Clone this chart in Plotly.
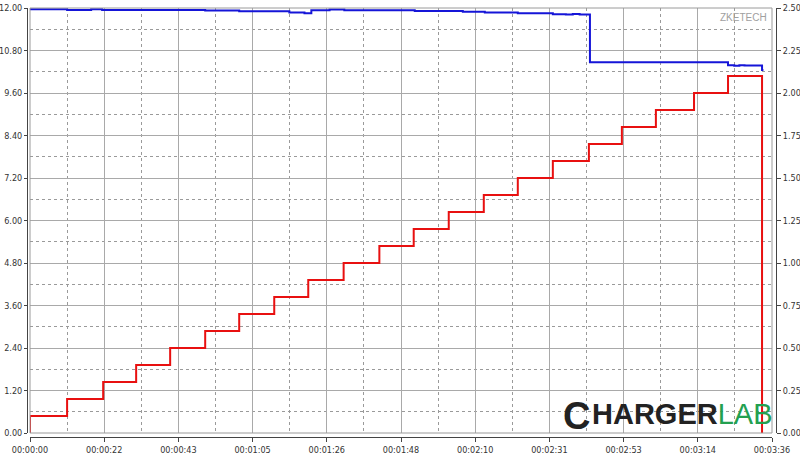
import plotly.graph_objects as go

# ---- data (time in seconds) ----
voltage_time = [0, 10.8, 17.8, 21.0, 51.0, 60.9, 71.7, 75.5, 79.9, 81.9, 87.2, 91.5,
                112.0, 126.0, 132.4, 142.0, 152.2, 156.0, 158.0, 160.0, 163.0,
                203.2, 205.0, 206.5, 208.0, 213.1, 213.5]
voltage = [11.962, 11.945, 11.962, 11.944, 11.926, 11.905, 11.91, 11.875, 11.855, 11.94, 11.958, 11.935,
           11.915, 11.895, 11.875, 11.855, 11.825, 11.815, 11.83, 11.82, 10.47,
           10.385, 10.37, 10.385, 10.375, 10.25, 10.25]

current_time = [0, 0, 10.8, 21.3, 30.9, 40.8, 51.0, 60.9, 71.1, 81.0, 91.3, 101.7, 111.7,
                121.9, 132.1, 142.0, 152.2, 162.7, 172.3, 182.2, 193.3, 203.2, 213.1]
current = [0.0, 0.1, 0.2, 0.3, 0.4, 0.5, 0.6, 0.7, 0.8, 0.9, 1.0, 1.1, 1.2,
           1.3, 1.4, 1.5, 1.6, 1.7, 1.8, 1.9, 2.0, 2.1, 0.0]

x_tick_labels = ["00:00:00", "00:00:22", "00:00:43", "00:01:05", "00:01:26", "00:01:48",
                 "00:02:10", "00:02:31", "00:02:53", "00:03:14", "00:03:36"]
total_seconds = 216.0

# ---- layout geometry (pixels) ----
W, H = 800, 455
ML, MR, MT, MB = 27, 24, 8, 18
PW = W - ML - MR        # paper width
PH = H - MT - MB        # paper height
plot_l, plot_r, plot_t, plot_b = 30, 772, 8, 433

def px(xp):
    return (xp - ML) / PW

def py(yp):
    return (H - MB - yp) / PH

n_div = len(x_tick_labels) - 1
tickvals = [total_seconds * i / n_div for i in range(n_div + 1)]

grid_major = "#a9a9a9"
grid_minor = "#9a9a9a"
tick_font = dict(family="Liberation Sans Narrow, DejaVu Sans Condensed, Arial Narrow, sans-serif",
                 size=9, color="#333333")

fig = go.Figure()
fig.add_trace(go.Scatter(x=voltage_time, y=voltage, mode="lines", line_shape="hv",
                         line=dict(color="#1515d8", width=2), yaxis="y", showlegend=False,
                         hoverinfo="skip"))
fig.add_trace(go.Scatter(x=current_time, y=current, mode="lines", line_shape="hv",
                         line=dict(color="#e81010", width=2), yaxis="y2", showlegend=False,
                         hoverinfo="skip"))

fig.update_layout(
    width=W, height=H,
    margin=dict(l=ML, r=MR, t=MT, b=MB, autoexpand=False),
    paper_bgcolor="white", plot_bgcolor="white",
    xaxis=dict(
        domain=[px(plot_l), px(plot_r)],
        range=[0, total_seconds],
        tickvals=tickvals, ticktext=x_tick_labels,
        tickfont=tick_font,
        showgrid=True, gridcolor=grid_major, gridwidth=1,
        minor=dict(dtick=total_seconds / n_div / 2, tick0=total_seconds / n_div / 2,
                   showgrid=True, gridcolor=grid_minor, griddash="dot", gridwidth=1,
                   ticks=""),
        zeroline=False,
        showline=True, linecolor="#444444", linewidth=1,
        ticks="outside", ticklen=4, tickcolor="#444444",
        anchor="free", position=0,
        automargin=False,
    ),
    yaxis=dict(
        domain=[py(plot_b), py(plot_t)],
        range=[0, 12], dtick=1.2, tick0=0, tickformat=".2f",
        tickfont=tick_font,
        showgrid=True, gridcolor=grid_major, gridwidth=1,
        minor=dict(dtick=0.6, tick0=0.6, showgrid=True, gridcolor=grid_minor,
                   griddash="dot", gridwidth=1, ticks=""),
        zeroline=False,
        showline=True, linecolor="#444444", linewidth=1,
        ticks="outside", ticklen=3, tickcolor="#444444",
        anchor="free", position=0,
        automargin=False,
    ),
    yaxis2=dict(
        overlaying="y", side="right",
        range=[0, 2.5], dtick=0.25, tick0=0, tickformat=".2f",
        tickfont=tick_font,
        showgrid=False, zeroline=False,
        showline=True, linecolor="#444444", linewidth=1,
        ticks="outside", ticklen=4, tickcolor="#444444",
        anchor="free", position=1,
        automargin=False,
    ),
    shapes=[
        dict(type="rect", xref="paper", yref="paper",
             x0=px(plot_l), x1=px(plot_r), y0=py(plot_b), y1=py(plot_t),
             line=dict(color="#9a9a9a", width=1), fillcolor="rgba(0,0,0,0)", layer="above"),
    ],
    annotations=[
        dict(text="ZKETECH", xref="paper", yref="paper", x=px(769), y=py(18),
             xanchor="right", yanchor="middle", showarrow=False,
             font=dict(family="Liberation Sans, Arial, sans-serif", size=10, color="#a0a0a0")),
        dict(text="<b>C</b>", xref="paper", yref="paper", x=px(576), y=py(416),
             xanchor="center", yanchor="middle", showarrow=False,
             font=dict(family="Liberation Sans, Arial, sans-serif", size=38, color="#222222")),
        dict(text="<b>HARGER</b><span style='color:#23a050'>LAB</span>", xref="paper", yref="paper",
             x=px(590), y=py(414), xanchor="left", yanchor="middle", showarrow=False,
             font=dict(family="Liberation Sans, Arial, sans-serif", size=29, color="#222222")),
    ],
)

fig.write_html("out.html",
               config={"displayModeBar": False},
               post_script="document.body.style.margin='0';document.body.style.padding='0';")
